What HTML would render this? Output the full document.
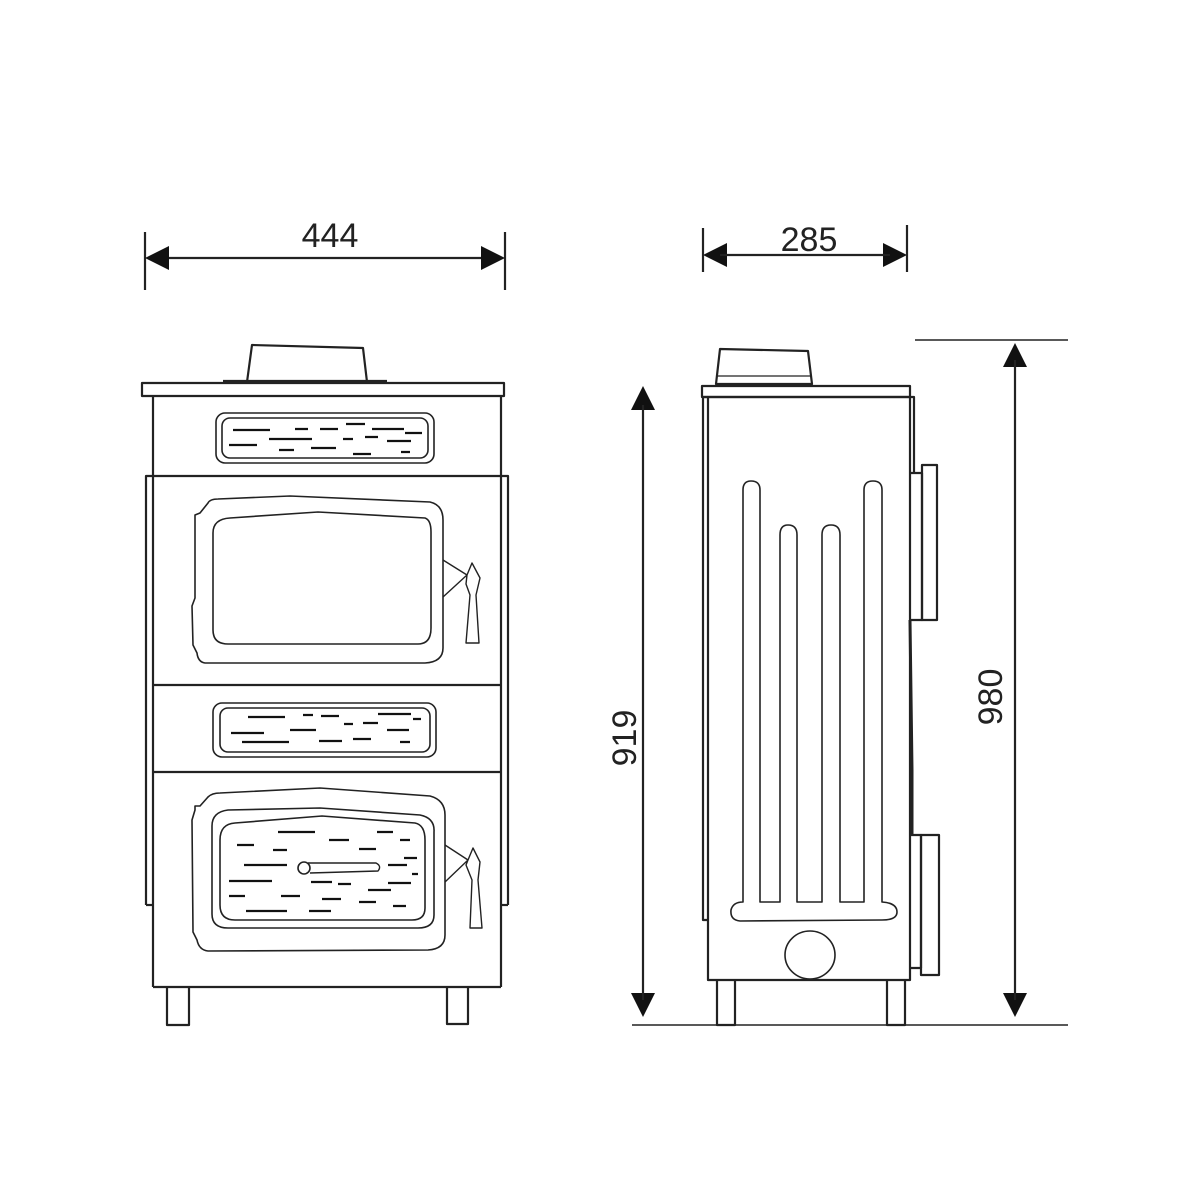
<!DOCTYPE html>
<html><head><meta charset="utf-8"><style>html,body{margin:0;padding:0;background:#fff}svg{display:block}</style></head>
<body>
<svg width="1200" height="1200" viewBox="0 0 1200 1200" xmlns="http://www.w3.org/2000/svg" font-family="Liberation Sans, sans-serif">
<g fill="none" stroke="#222" stroke-width="2.2" stroke-linejoin="round">
<line x1="145" y1="232" x2="145" y2="290"/><line x1="505" y1="232" x2="505" y2="290"/>
<line x1="165" y1="258" x2="485" y2="258"/>
<path d="M247 382 L252 345 L363 348 L367 382"/>
<rect x="142" y="383" width="362" height="13"/>
<line x1="223" y1="381" x2="387" y2="381"/><line x1="223" y1="396" x2="387" y2="396" stroke-width="1.2"/>
<line x1="153" y1="396" x2="153" y2="987"/><line x1="501" y1="396" x2="501" y2="987"/>
<line x1="153" y1="987" x2="501" y2="987"/>
<path d="M146 905 L146 476 L508 476 L508 905"/>
<line x1="146" y1="905" x2="153" y2="905"/><line x1="501" y1="905" x2="508" y2="905"/>
<line x1="153" y1="685" x2="501" y2="685"/><line x1="153" y1="772" x2="501" y2="772"/>
<path d="M167 987 V1025 H189 V987"/><path d="M447 987 V1024 H468 V987"/>
<rect x="216" y="413" width="218" height="50" rx="9" stroke-width="1.6"/>
<rect x="222" y="418" width="206" height="40" rx="8" stroke-width="1.6"/>
<path d="M208 503 Q210 499 218 499 L290 496 L430 502 Q443 505 443 520 L443 648 Q443 662 425 663 L205 663 Q198 662 197 653 L193 645 L192 606 L195 598 L195 515 L200 513 Z" stroke-width="1.6"/>
<path d="M230 518 L318 512 L425 518 Q431 520 431 532 L431 628 Q431 644 418 644 L228 644 Q213 644 213 630 L213 533 Q213 519 230 518 Z" stroke-width="1.6"/>
<path d="M443 560 L467 575 L443 597 M467 575 L472 563 L480 578 L476 595 L479 643 L466 643 L470 595 L466 584 Z" stroke-width="1.4"/>
<rect x="213" y="703" width="223" height="54" rx="9" stroke-width="1.6"/>
<rect x="220" y="708" width="210" height="44" rx="8" stroke-width="1.6"/>
<path d="M208 797 Q212 793 220 793 L320 788 L430 796 Q445 800 445 815 L445 935 Q445 949 428 950 L208 951 Q199 950 197 940 L193 932 L192 820 L195 810 L195 806 L200 806 Z" stroke-width="1.6"/>
<path d="M228 810 L320 808 L420 815 Q435 818 434 832 L434 915 Q434 928 418 928 L228 928 Q212 928 212 914 L212 826 Q212 812 228 810 Z" stroke-width="1.6"/>
<path d="M235 823 L322 816 L415 823 Q425 825 425 840 L425 908 Q425 920 412 920 L235 920 Q220 920 220 905 L220 840 Q220 824 235 823 Z" stroke-width="1.6"/>
<circle cx="304" cy="868" r="6" stroke-width="1.6"/>
<path d="M308 863 L376 863 Q382 866 378 871 L310 873" stroke-width="1.4"/>
<path d="M445 845 L468 860 L445 882 M468 860 L473 848 L480 862 L478 880 L482 928 L470 928 L472 880 L466 865 Z" stroke-width="1.4"/>
</g>
<g stroke="#111" stroke-width="2.2">
<path d="M233 430H270M295 429H308M320 429H338M346 424H365M372 429H404M405 433H422M269 439H312M343 439H353M365 437H378M387 441H411M229 445H257M279 450H294M311 448H336M353 454H371M401 452H410"/>
<path d="M248 717H285M303 715H313M321 716H339M378 714H411M413 719H421M231 733H264M290 730H316M344 724H353M363 723H378M387 730H409M242 742H289M319 741H342M353 739H371M400 742H410"/>
<path d="M278 832H315M237 845H254M329 840H349M377 832H393M400 840H410M273 850H287M359 849H376M244 865H287M388 865H407M404 858H417M412 874H418M229 881H272M311 882H332M338 884H351M388 883H411M368 890H391M229 896H245M281 896H300M322 899H341M359 902H376M393 906H406M246 911H287M309 911H331"/>
</g>
<g fill="#111">
<polygon points="145,258 169,246 169,270"/><polygon points="505,258 481,246 481,270"/>
<polygon points="703,255 727,243 727,267"/><polygon points="907,255 883,243 883,267"/>
<polygon points="643,386 631,410 655,410"/><polygon points="643,1017 631,993 655,993"/>
<polygon points="1015,343 1003,367 1027,367"/><polygon points="1015,1017 1003,993 1027,993"/>
</g>
<g font-size="34" fill="#222" text-anchor="middle">
<text x="330" y="247">444</text>
<text x="809" y="251">285</text>
<text transform="translate(636,738) rotate(-90)">919</text>
<text transform="translate(1002,697) rotate(-90)">980</text>
</g>
<g fill="none" stroke="#222" stroke-width="2.2" stroke-linejoin="round">
<line x1="703" y1="228" x2="703" y2="272"/><line x1="907" y1="225" x2="907" y2="272"/>
<line x1="720" y1="255" x2="890" y2="255"/>
<line x1="643" y1="405" x2="643" y2="1000"/>
<line x1="1015" y1="360" x2="1015" y2="1000"/>
<line x1="632" y1="1025" x2="1068" y2="1025" stroke-width="1.6"/>
<line x1="915" y1="340" x2="1068" y2="340" stroke-width="1.6"/>
<path d="M716 384 L720 349 L808 351 L812 384 Z"/>
<line x1="717" y1="376" x2="811" y2="376" stroke-width="1.2"/>
<rect x="702" y="386" width="208" height="11"/>
<rect x="708" y="397" width="202" height="583"/>
<path d="M708 397 H703 V920 H708"/>
<path d="M910 397 H914 V473"/>
<path d="M910 473 H922 V620 H910"/>
<rect x="922" y="465" width="15" height="155"/>
<path d="M910 620 L912 770 L912 835" stroke-width="3"/>
<path d="M910 835 H921 V968 H910"/>
<rect x="921" y="835" width="18" height="140"/>
<path d="M717 980 V1025 H735 V980"/><path d="M887 980 V1025 H905 V980"/>
<path d="M743 902 L743 490 Q743 481 751 481 Q760 481 760 490 L760 902 L780 902 L780 535 Q780 525 788 525 Q797 525 797 535 L797 902 L822 902 L822 535 Q822 525 831 525 Q840 525 840 535 L840 902 L864 902 L864 490 Q864 481 873 481 Q882 481 882 490 L882 902 Q897 903 897 912 Q897 920 882 920 L740 921 Q730 920 731 910 Q733 902 743 902 Z" stroke-width="1.6"/>
<ellipse cx="810" cy="955" rx="25" ry="24" stroke-width="1.6"/>
</g>
</svg>
</body></html>
